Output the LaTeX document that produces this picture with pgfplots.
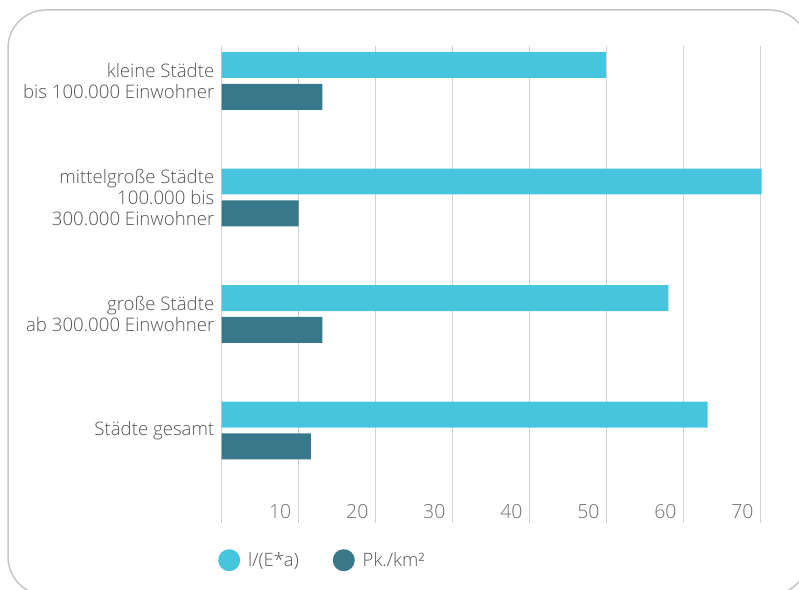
\documentclass[border=0pt]{standalone}
\usepackage{pgfplots}
\pgfplotsset{compat=1.18}
\usepackage{fontspec}
\IfFontExistsTF{Open Sans Light}{\setmainfont{Open Sans Light}}{\setmainfont{Open Sans}}
\definecolor{cyanbar}{HTML}{48C5DE}
\definecolor{tealbar}{HTML}{37798A}
\definecolor{gridc}{HTML}{D2D2D2}
\definecolor{framec}{HTML}{C6C6C6}
\definecolor{txt}{HTML}{555555}
\definecolor{ticktxt}{HTML}{6E6E6E}
\begin{document}
\begin{tikzpicture}
\path[use as bounding box] (0,0) rectangle (799bp,590bp);
\clip (0,0) rectangle (799bp,590bp);
\draw[framec, line width=1.5bp, rounded corners=38bp] (8bp,580bp) rectangle (808bp,-5bp);
\begin{axis}[
  at={(221.5bp,67bp)}, anchor=south west,
  scale only axis, width=540bp, height=477bp,
  xmin=0, xmax=70.1, ymin=-0.794, ymax=3.3,
  clip=false,
  axis line style={draw=none},
  major tick length=0,
  xtick={0,10,20,30,40,50,60,70},
  xticklabels={,10,20,30,40,50,60,70},
  xmajorgrids, grid style={gridc, line width=1.3bp},
  xticklabel style={anchor=base east, inner sep=0pt, xshift=-7bp, yshift=5bp,
    font=\fontsize{19.5}{22}\selectfont, text=ticktxt},
  ytick={0,1,2,3},
  yticklabels={Städte gesamt,{große Städte\\ab 300.000 Einwohner},{mittelgroße Städte\\100.000 bis\\300.000 Einwohner},{kleine Städte\\bis 100.000 Einwohner}},
  yticklabel style={align=right, anchor=east, inner sep=0pt, xshift=-7bp,
    font=\fontsize{18.7}{21}\selectfont, text=txt},
  legend columns=2,
  legend style={draw=none, fill=none, at={(-0.012,-0.078)}, anchor=west,
    font=\fontsize{18.5}{21}\selectfont, text=txt,
    /tikz/every odd column/.append style={column sep=6bp},
    /tikz/every even column/.append style={column sep=32bp}},
]
\addplot[xbar, bar width=0.223, bar shift=0.137, fill=cyanbar, draw=none,
  legend image code/.code={\fill[cyanbar] (0,0) circle (11bp);}]
  coordinates {(49.9,3) (70.1,2) (58.0,1) (63.1,0)};
\addlegendentry{l/(E*a)}
\addplot[xbar, bar width=0.223, bar shift=-0.137, fill=tealbar, draw=none,
  legend image code/.code={\fill[tealbar] (0,0) circle (11bp);}]
  coordinates {(13.1,3) (10.0,2) (13.1,1) (11.6,0)};
\addlegendentry{Pk./km²}
\end{axis}
\end{tikzpicture}
\end{document}
